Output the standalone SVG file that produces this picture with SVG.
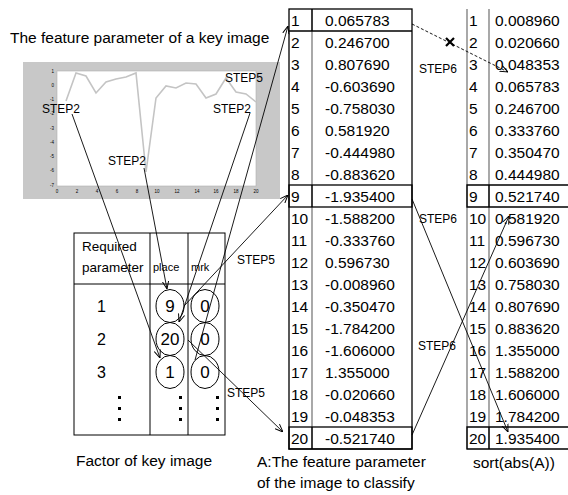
<svg xmlns="http://www.w3.org/2000/svg" width="568" height="495" viewBox="0 0 568 495">
<defs>
<style>
text{font-family:"Liberation Sans",Arial,sans-serif;fill:#000}
.t{font-size:15.5px}
.h{font-size:13.5px}
.sm{font-size:11px}
.c{font-size:17px;text-anchor:middle}
.s{font-size:12px}
.tk{font-size:4.5px;fill:#777}
.tr{text-anchor:end}
.tm{text-anchor:middle}
.ln{stroke:#000;stroke-width:0.9;fill:none}
.bx{stroke:#000;stroke-width:1.3;fill:none}
.gl{stroke:#7a7a7a;stroke-width:1.3}
.el{fill:none;stroke:#000;stroke-width:1}
</style>
<marker id="ah" viewBox="0 0 10 10" refX="10" refY="5" markerWidth="8" markerHeight="8" markerUnits="userSpaceOnUse" orient="auto"><path d="M0,1 L10,5 L0,9" fill="none" stroke="#000" stroke-width="1.2"/></marker>
</defs>
<rect width="568" height="495" fill="#fff"/>

<g id="title"><text class="t" x="10" y="43">The feature parameter of a key image</text></g>

<g id="chart">
<rect x="23" y="62" width="257" height="137" fill="#c8c8c8"/>
<rect x="57" y="71" width="199" height="115" fill="#fff" stroke="#b0b0b0" stroke-width="0.6"/>
<g class="tk">
<text class="tr" x="54" y="72.5">1</text><text class="tr" x="54" y="86.7">0</text><text class="tr" x="54" y="101">-1</text><text class="tr" x="54" y="115.2">-2</text><text class="tr" x="54" y="129.5">-3</text><text class="tr" x="54" y="143.7">-4</text><text class="tr" x="54" y="158">-5</text><text class="tr" x="54" y="172.2">-6</text><text class="tr" x="54" y="186.5">-7</text>
<text class="tm" x="57" y="193">0</text><text class="tm" x="77" y="193">2</text><text class="tm" x="97" y="193">4</text><text class="tm" x="117" y="193">6</text><text class="tm" x="137" y="193">8</text><text class="tm" x="157" y="193">10</text><text class="tm" x="177" y="193">12</text><text class="tm" x="197" y="193">14</text><text class="tm" x="216" y="193">16</text><text class="tm" x="236" y="193">18</text><text class="tm" x="256" y="193">20</text>
</g>
<polyline points="66,101 76,73 86,76 96,93 106,82 116,79 126,77 136,73 146,172 156,98 166,86 176,88 186,83 196,84 206,98 216,94 226,78 236,92 246,94 256,102" fill="none" stroke="#c4c4c4" stroke-width="1.6"/>
<text class="s" x="42" y="113">STEP2</text>
<text class="s" x="108" y="165">STEP2</text>
<text class="s" x="213" y="113">STEP2</text>
<text class="s" x="225" y="82">STEP5</text>
</g>

<g id="factor-table">
<rect x="74" y="233" width="151" height="202" class="el"/>
<line x1="74" y1="284" x2="225" y2="284" class="el"/>
<line x1="150" y1="233" x2="150" y2="435" class="el"/>
<line x1="188" y1="233" x2="188" y2="435" class="el"/>
<text class="h" x="82" y="251">Required</text>
<text class="h" x="82" y="272">parameter</text>
<text class="sm" x="153" y="271">place</text>
<text class="sm" x="191" y="271">mrk</text>
<text style="font-size:16px" x="97" y="312">1</text>
<text style="font-size:16px" x="97" y="345">2</text>
<text style="font-size:16px" x="97" y="378">3</text>
<ellipse cx="170" cy="306" rx="14" ry="16.5" class="el"/>
<ellipse cx="170" cy="339" rx="14" ry="16.5" class="el"/>
<ellipse cx="170" cy="372" rx="14" ry="16.5" class="el"/>
<ellipse cx="205" cy="306" rx="14" ry="16.5" class="el"/>
<ellipse cx="205" cy="339" rx="14" ry="16.5" class="el"/>
<ellipse cx="205" cy="372" rx="14" ry="16.5" class="el"/>
<text class="c" x="170" y="312">9</text>
<text class="c" x="170" y="345">20</text>
<text class="c" x="170" y="378">1</text>
<text class="c" x="205" y="312">0</text>
<text class="c" x="205" y="345">0</text>
<text class="c" x="205" y="378">0</text>
<g fill="#000">
<rect x="118" y="396" width="3" height="3"/><rect x="118" y="407" width="3" height="3"/><rect x="118" y="418" width="3" height="3"/>
<rect x="179" y="396" width="3" height="3"/><rect x="179" y="407" width="3" height="3"/><rect x="179" y="418" width="3" height="3"/>
<rect x="216" y="396" width="3" height="3"/><rect x="216" y="407" width="3" height="3"/><rect x="216" y="418" width="3" height="3"/>
</g>
<text class="t" x="76" y="466">Factor of key image</text>
</g>

<g id="table-A">
<line x1="312" y1="9" x2="312" y2="449" class="gl"/>
<rect x="289" y="9" width="123" height="440" class="bx"/>
<line x1="289" y1="31" x2="412" y2="31" class="bx"/>
<line x1="312" y1="9" x2="312" y2="31" class="bx"/>
<rect x="289" y="185" width="123" height="22" class="bx"/>
<line x1="312" y1="185" x2="312" y2="207" class="bx"/>
<rect x="289" y="427" width="123" height="22" class="bx"/>
<line x1="312" y1="427" x2="312" y2="449" class="bx"/>
<g class="t">
<text x="291" y="25.5">1</text><text x="325" y="25.5">0.065783</text>
<text x="291" y="47.5">2</text><text x="325" y="47.5">0.246700</text>
<text x="291" y="69.5">3</text><text x="325" y="69.5">0.807690</text>
<text x="291" y="91.5">4</text><text x="325" y="91.5">-0.603690</text>
<text x="291" y="113.5">5</text><text x="325" y="113.5">-0.758030</text>
<text x="291" y="135.5">6</text><text x="325" y="135.5">0.581920</text>
<text x="291" y="157.5">7</text><text x="325" y="157.5">-0.444980</text>
<text x="291" y="179.5">8</text><text x="325" y="179.5">-0.883620</text>
<text x="291" y="201.5">9</text><text x="325" y="201.5">-1.935400</text>
<text x="291" y="223.5">10</text><text x="325" y="223.5">-1.588200</text>
<text x="291" y="245.5">11</text><text x="325" y="245.5">-0.333760</text>
<text x="291" y="267.5">12</text><text x="325" y="267.5">0.596730</text>
<text x="291" y="289.5">13</text><text x="325" y="289.5">-0.008960</text>
<text x="291" y="311.5">14</text><text x="325" y="311.5">-0.350470</text>
<text x="291" y="333.5">15</text><text x="325" y="333.5">-1.784200</text>
<text x="291" y="355.5">16</text><text x="325" y="355.5">-1.606000</text>
<text x="291" y="377.5">17</text><text x="325" y="377.5">1.355000</text>
<text x="291" y="399.5">18</text><text x="325" y="399.5">-0.020660</text>
<text x="291" y="421.5">19</text><text x="325" y="421.5">-0.048353</text>
<text x="291" y="443.5">20</text><text x="325" y="443.5">-0.521740</text>
</g>
<text class="t" x="257" y="467">A:The feature parameter</text>
<text class="t" x="257" y="488">of the image to classify</text>
</g>

<g id="table-sorted">
<line x1="467" y1="9" x2="467" y2="449" class="gl"/>
<line x1="489" y1="9" x2="489" y2="449" class="gl"/>
<path d="M568,185 H467 V207 H568 M489,185 V207" class="bx"/>
<path d="M568,427 H467 V449 H568 M489,427 V449" class="bx"/>
<g class="t">
<text x="469" y="25.5">1</text><text x="495" y="25.5">0.008960</text>
<text x="469" y="47.5">2</text><text x="495" y="47.5">0.020660</text>
<text x="469" y="69.5">3</text><text x="495" y="69.5">0.048353</text>
<text x="469" y="91.5">4</text><text x="495" y="91.5">0.065783</text>
<text x="469" y="113.5">5</text><text x="495" y="113.5">0.246700</text>
<text x="469" y="135.5">6</text><text x="495" y="135.5">0.333760</text>
<text x="469" y="157.5">7</text><text x="495" y="157.5">0.350470</text>
<text x="469" y="179.5">8</text><text x="495" y="179.5">0.444980</text>
<text x="469" y="201.5">9</text><text x="495" y="201.5">0.521740</text>
<text x="469" y="223.5">10</text><text x="495" y="223.5">0.581920</text>
<text x="469" y="245.5">11</text><text x="495" y="245.5">0.596730</text>
<text x="469" y="267.5">12</text><text x="495" y="267.5">0.603690</text>
<text x="469" y="289.5">13</text><text x="495" y="289.5">0.758030</text>
<text x="469" y="311.5">14</text><text x="495" y="311.5">0.807690</text>
<text x="469" y="333.5">15</text><text x="495" y="333.5">0.883620</text>
<text x="469" y="355.5">16</text><text x="495" y="355.5">1.355000</text>
<text x="469" y="377.5">17</text><text x="495" y="377.5">1.588200</text>
<text x="469" y="399.5">18</text><text x="495" y="399.5">1.606000</text>
<text x="469" y="421.5">19</text><text x="495" y="421.5">1.784200</text>
<text x="469" y="443.5">20</text><text x="495" y="443.5">1.935400</text>
</g>
<text class="t" x="473" y="468">sort(abs(A))</text>
</g>

<g id="connectors">
<line x1="72" y1="114" x2="160" y2="358" class="ln" marker-end="url(#ah)"/>
<line x1="144" y1="168" x2="167" y2="289" class="ln" marker-end="url(#ah)"/>
<line x1="250" y1="113" x2="179" y2="322" class="ln" marker-end="url(#ah)"/>
<line x1="195" y1="360" x2="288" y2="26" class="ln" marker-end="url(#ah)"/>
<line x1="184" y1="306" x2="288" y2="195" class="ln" marker-end="url(#ah)"/>
<line x1="188" y1="340" x2="283" y2="432" class="ln" marker-end="url(#ah)"/>
<text class="s" x="237" y="264">STEP5</text>
<text class="s" x="227" y="397">STEP5</text>
<line x1="412" y1="24" x2="508" y2="72" class="ln" stroke-dasharray="3,2" marker-end="url(#ah)"/>
<path d="M446,38 L454,46 M454,38 L446,46" stroke="#000" stroke-width="2.2"/>
<line x1="412" y1="199" x2="508" y2="432" class="ln" marker-end="url(#ah)"/>
<line x1="412" y1="435" x2="509" y2="216" class="ln" marker-end="url(#ah)"/>
<text class="s" x="419" y="73">STEP6</text>
<text class="s" x="419" y="223">STEP6</text>
<text class="s" x="418" y="350">STEP6</text>
</g>
</svg>
